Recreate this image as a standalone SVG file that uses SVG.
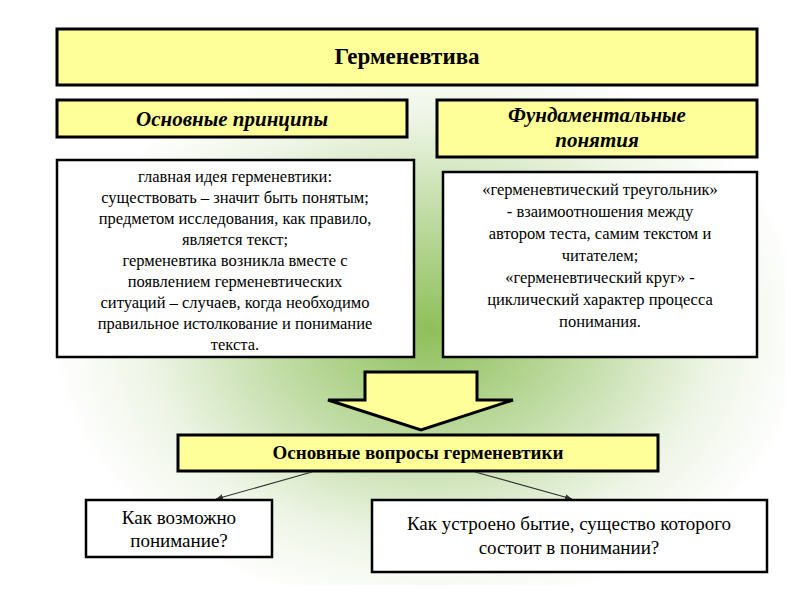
<svg xmlns="http://www.w3.org/2000/svg" width="800" height="600" viewBox="0 0 800 600" font-family="'Liberation Serif', 'DejaVu Serif', serif">
<defs>
<radialGradient id="bg" cx="430" cy="330" r="380" gradientUnits="userSpaceOnUse" gradientTransform="translate(430 330) scale(1 0.75) translate(-430 -330)">
<stop offset="0" stop-color="#8fbf5a"/>
<stop offset="0.35" stop-color="#b9d89a"/>
<stop offset="0.75" stop-color="#eef5e6"/>
<stop offset="1" stop-color="#ffffff"/>
</radialGradient>
<marker id="ah" markerWidth="8" markerHeight="8" refX="7" refY="4" orient="auto" markerUnits="userSpaceOnUse"><path d="M0,1 L7,4 L0,7 z" fill="#333"/></marker>
<style>
.y{fill:#ffff99;stroke:#000;stroke-width:3}
.w{fill:#fff;stroke:#000;stroke-width:2.5}
text{font-family:'Liberation Serif','DejaVu Serif',serif;fill:#000;text-anchor:middle}
.b{font-weight:bold}
.i{font-weight:bold;font-style:italic}
.s{font-size:16.5px}
</style>
</defs>
<rect width="800" height="600" fill="#fff"/>
<rect x="20" y="15" width="765" height="570" fill="url(#bg)"/>
<g id="title"><rect class="y" x="57" y="29" width="700" height="56"/><text class="b" x="407" y="64" font-size="23">Герменевтива</text></g>
<g id="principles"><rect class="y" x="57" y="100" width="350" height="37"/><text class="i" x="232" y="126" font-size="21">Основные принципы</text></g>
<g id="concepts"><rect class="y" x="437" y="100" width="320" height="57"/><text class="i" x="597" y="122" font-size="21">Фундаментальные</text><text class="i" x="597" y="147" font-size="21">понятия</text></g>
<g id="principles-text"><rect class="w" x="57" y="160" width="357" height="197"/>
<text class="s" x="235" y="182">главная идея герменевтики:</text>
<text class="s" x="235" y="203">существовать – значит быть понятым;</text>
<text class="s" x="235" y="224">предметом  исследования, как правило,</text>
<text class="s" x="235" y="245">является текст;</text>
<text class="s" x="235" y="266">герменевтика возникла вместе с</text>
<text class="s" x="235" y="287">появлением герменевтических</text>
<text class="s" x="235" y="308">ситуаций – случаев, когда необходимо</text>
<text class="s" x="235" y="329">правильное истолкование и понимание</text>
<text class="s" x="235" y="350">текста.</text></g>
<g id="concepts-text"><rect class="w" x="443" y="172" width="314" height="185"/>
<text class="s" x="600" y="195">«герменевтический треугольник»</text>
<text class="s" x="600" y="217">- взаимоотношения между</text>
<text class="s" x="600" y="239">автором теста, самим текстом и</text>
<text class="s" x="600" y="261">читателем;</text>
<text class="s" x="600" y="283">«герменевтический круг» -</text>
<text class="s" x="600" y="305">циклический характер процесса</text>
<text class="s" x="600" y="327">понимания.</text></g>
<g id="big-arrow"><path d="M365,372 H477 V400 H513 L421,430 L328,400 H365 Z" fill="#ffff99" stroke="#000" stroke-width="3"/></g>
<g id="questions"><rect class="y" x="178" y="435" width="480" height="36"/><text class="b" x="418" y="459" font-size="19">Основные вопросы герменевтики</text></g>
<g id="connectors" stroke="#333" stroke-width="1.2"><line x1="312" y1="472" x2="216" y2="499" marker-end="url(#ah)"/><line x1="475" y1="472" x2="572" y2="499" marker-end="url(#ah)"/></g>
<g id="q1"><rect class="w" x="86" y="500" width="186" height="57"/><text x="179" y="524" font-size="19">Как возможно</text><text x="179" y="547" font-size="19">понимание?</text></g>
<g id="q2"><rect class="w" x="372" y="500" width="395" height="72"/><text x="569" y="530" font-size="19">Как устроено бытие, существо которого</text><text x="569" y="554" font-size="19">состоит в понимании?</text></g>
</svg>
